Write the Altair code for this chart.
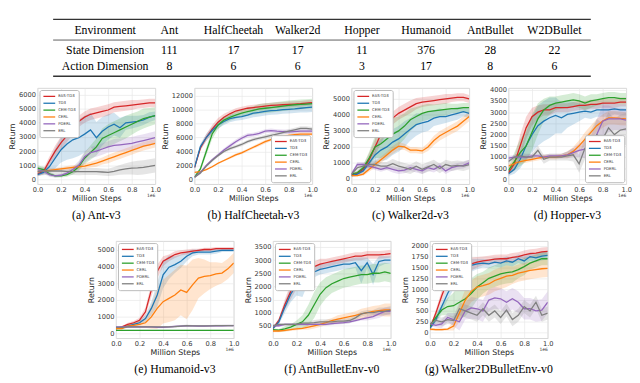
import altair as alt
import pandas as pd

STEPS = [0.0, 0.05, 0.1, 0.15, 0.2, 0.25, 0.3, 0.35, 0.4, 0.45, 0.5,
         0.55, 0.6, 0.65, 0.7, 0.75, 0.8, 0.85, 0.9, 0.95, 1.0]
SERIES = ["EAS-TD3", "TD3", "CEM-TD3", "CERL", "PDERL", "ERL"]
COLORS = ["#d62728", "#1f77b4", "#2ca02c", "#ff7f0e", "#9467bd", "#7f7f7f"]
X_TICKS = [0.0, 0.2, 0.4, 0.6, 0.8, 1.0]

# ---------------- table ----------------
TABLE_COLS = ["Environment", "Ant", "HalfCheetah", "Walker2d", "Hopper", "Humanoid", "AntBullet", "W2DBullet"]
STATE_DIMS = ["State Dimension", "111", "17", "17", "11", "376", "28", "22"]
ACTION_DIMS = ["Action Dimension", "8", "6", "6", "3", "17", "8", "6"]
# vertical layout slots of the table (rules and text rows)
TABLE_SLOTS = ["top", "s1", "head", "s3", "mid", "s5", "state", "s7", "s8", "action", "s10", "bottom"]

# ---------------- (a) Ant-v3 ----------------
ANT_EAS = [400, 550, 1300, 2000, 2600, 3100, 3600, 4100, 4400, 4600, 4700, 4800, 4900, 5100, 5150, 5200, 5250, 5300, 5350, 5400, 5400]
ANT_TD3 = [350, 500, 900, 1500, 2100, 2500, 2800, 2950, 3200, 3500, 2950, 3400, 3700, 3900, 3650, 4000, 4050, 4100, 4200, 4400, 4500]
ANT_CEM = [800, 700, 400, 250, 250, 350, 550, 900, 1500, 1900, 2300, 2900, 3100, 3300, 3500, 3700, 3900, 4100, 4300, 4400, 4500]
ANT_CERL = [550, 600, 650, 700, 750, 800, 850, 900, 950, 1050, 1150, 1300, 1450, 1600, 1750, 1900, 2050, 2200, 2350, 2450, 2550]
ANT_PDERL = [700, 600, 350, 250, 300, 450, 700, 1000, 1600, 1900, 2000, 2150, 2300, 2400, 2450, 2500, 2550, 2650, 2750, 2850, 2950]
ANT_ERL = [550, 600, 600, 600, 600, 580, 560, 550, 560, 560, 560, 530, 500, 580, 680, 750, 800, 820, 850, 920, 1000]
ANT_EAS_SD = [150, 200, 300, 400, 450, 450, 450, 400, 400, 400, 400, 400, 400, 350, 350, 350, 350, 300, 300, 300, 300]
ANT_TD3_SD = [100, 150, 400, 700, 900, 1100, 1300, 1300, 1300, 1200, 1100, 1000, 900, 800, 700, 500, 450, 400, 350, 350, 300]
ANT_CEM_SD = [200, 200, 150, 100, 100, 150, 200, 300, 400, 500, 600, 700, 800, 800, 800, 800, 750, 700, 700, 650, 600]
ANT_CERL_SD = [100, 100, 100, 100, 100, 150, 150, 150, 200, 200, 250, 250, 300, 300, 300, 300, 300, 300, 300, 300, 300]
ANT_PDERL_SD = [200, 200, 150, 100, 100, 150, 200, 300, 400, 400, 400, 400, 400, 450, 450, 450, 450, 450, 450, 450, 450]
ANT_ERL_SD = [300, 300, 250, 250, 250, 250, 250, 250, 250, 250, 250, 250, 250, 300, 350, 400, 450, 500, 500, 500, 500]

# ---------------- (b) HalfCheetah-v3 ----------------
HC_EAS = [1700, 4500, 6000, 7200, 8200, 8900, 9400, 9800, 10000, 10200, 10300, 10400, 10500, 10600, 10650, 10700, 10750, 10800, 10850, 10950, 11000]
HC_TD3 = [1700, 4700, 6000, 7000, 7800, 8300, 8700, 8900, 9000, 9200, 9500, 9600, 9750, 9850, 9900, 10000, 10050, 10100, 10200, 10300, 10350]
HC_CEM = [300, 1500, 4000, 6500, 7800, 8500, 8900, 9200, 9500, 9700, 9900, 10100, 10200, 10300, 10400, 10500, 10600, 10700, 10750, 10800, 10850]
HC_CERL = [1000, 1100, 1400, 1800, 2300, 2700, 3100, 3500, 3800, 4200, 4600, 5000, 5400, 5700, 5900, 6100, 6300, 6400, 6500, 6500, 6500]
HC_PDERL = [300, 1000, 2000, 2800, 3500, 4200, 4800, 5400, 5900, 6300, 6400, 6600, 6900, 7000, 6900, 6850, 6800, 6850, 6900, 6900, 6900]
HC_ERL = [300, 900, 1900, 2700, 3400, 4000, 4400, 4700, 5000, 5400, 5700, 5900, 6100, 6300, 6500, 6700, 6900, 7100, 7300, 7300, 7200]
HC_EAS_SD = [200, 400, 500, 600, 600, 500, 400, 400, 400, 400, 400, 400, 400, 400, 400, 400, 400, 400, 400, 400, 400]
HC_TD3_SD = [200, 400, 500, 500, 500, 500, 500, 500, 500, 500, 600, 600, 600, 600, 600, 600, 600, 600, 600, 700, 700]
HC_CEM_SD = [100, 300, 600, 700, 600, 500, 500, 500, 500, 600, 600, 700, 700, 700, 700, 700, 700, 700, 700, 700, 700]
HC_CERL_SD = [100, 100, 100, 100, 150, 150, 200, 200, 200, 200, 200, 250, 250, 250, 250, 250, 250, 250, 250, 250, 250]
HC_PDERL_SD = [100, 200, 200, 200, 250, 250, 300, 300, 300, 300, 300, 300, 300, 300, 300, 300, 300, 300, 300, 300, 300]
HC_ERL_SD = [100, 200, 200, 200, 200, 200, 250, 250, 250, 250, 250, 250, 300, 300, 300, 300, 300, 300, 300, 300, 300]

# ---------------- (c) Walker2d-v3 ----------------
WK_EAS = [250, 350, 600, 1200, 2000, 2800, 3400, 3800, 4100, 4300, 4500, 4700, 4800, 4850, 4900, 4950, 5000, 5050, 5100, 5100, 5000]
WK_TD3 = [200, 300, 500, 1000, 1500, 1800, 2000, 2300, 2500, 2800, 3100, 3400, 3500, 3600, 3800, 3900, 3900, 4000, 4100, 4200, 4100]
WK_CEM = [300, 400, 700, 1300, 2000, 2200, 2500, 2800, 3000, 3300, 3700, 3900, 4100, 4200, 4250, 4300, 4350, 4400, 4400, 4450, 4450]
WK_CERL = [200, 200, 300, 600, 900, 1200, 1500, 1800, 2050, 2000, 1800, 1800, 1750, 2000, 2400, 2700, 2900, 3100, 3300, 3600, 3900]
WK_PDERL = [300, 900, 900, 800, 700, 600, 700, 600, 500, 550, 700, 600, 500, 700, 600, 800, 500, 700, 800, 850, 1000]
WK_ERL = [300, 700, 800, 900, 900, 800, 800, 950, 800, 700, 600, 800, 600, 750, 900, 650, 900, 800, 850, 800, 900]
WK_EAS_SD = [100, 100, 200, 400, 500, 600, 500, 400, 400, 400, 400, 350, 300, 300, 300, 300, 300, 250, 250, 250, 250]
WK_TD3_SD = [100, 100, 200, 400, 600, 700, 800, 800, 800, 800, 700, 700, 600, 600, 500, 500, 400, 400, 400, 300, 300]
WK_CEM_SD = [100, 100, 200, 400, 700, 900, 1000, 1000, 900, 800, 700, 600, 500, 500, 400, 400, 400, 300, 300, 300, 300]
WK_CERL_SD = [50, 50, 100, 150, 200, 200, 200, 250, 250, 200, 200, 200, 200, 250, 300, 300, 300, 300, 300, 300, 300]
WK_PDERL_SD = [100, 150, 150, 150, 150, 150, 150, 200, 200, 200, 200, 200, 200, 200, 200, 200, 200, 200, 200, 200, 200]
WK_ERL_SD = [150, 200, 200, 200, 250, 250, 250, 300, 300, 300, 300, 300, 300, 300, 300, 300, 300, 300, 300, 300, 300]

# ---------------- (d) Hopper-v3 ----------------
HOP_EAS = [300, 700, 1500, 2300, 2800, 3000, 3100, 3100, 3200, 3200, 3200, 3250, 3300, 3300, 3350, 3350, 3400, 3400, 3400, 3450, 3450]
HOP_TD3 = [250, 450, 900, 1500, 2000, 2400, 2600, 2750, 2850, 2750, 2900, 2950, 3000, 3050, 3000, 3100, 3100, 3100, 3150, 3100, 3100]
HOP_CEM = [400, 800, 1200, 1500, 2100, 2700, 3100, 3300, 3400, 3450, 3500, 3550, 3500, 3400, 3500, 3550, 3600, 3650, 3650, 3600, 3600]
HOP_CERL = [600, 700, 800, 850, 900, 950, 1000, 1000, 1000, 1050, 1100, 1250, 1500, 1800, 2100, 2400, 2600, 2750, 2750, 2720, 2700]
HOP_PDERL = [950, 1000, 1000, 1000, 1050, 1050, 1000, 1050, 1050, 1050, 1100, 1200, 1300, 1350, 1400, 2000, 2600, 2700, 2700, 2700, 2650]
HOP_ERL = [800, 1000, 1050, 1000, 1000, 1300, 900, 1000, 1000, 1000, 1050, 1100, 700, 1400, 1600, 2000, 1800, 2300, 2000, 2200, 2250]
HOP_EAS_SD = [100, 300, 500, 500, 400, 300, 250, 250, 200, 200, 200, 200, 200, 200, 200, 200, 200, 200, 200, 200, 200]
HOP_TD3_SD = [100, 200, 400, 600, 800, 900, 900, 900, 800, 700, 600, 500, 400, 300, 300, 300, 300, 300, 250, 250, 250]
HOP_CEM_SD = [150, 400, 600, 700, 800, 700, 500, 400, 300, 300, 300, 300, 300, 300, 300, 250, 250, 250, 250, 250, 250]
HOP_CERL_SD = [100, 100, 100, 100, 100, 100, 100, 100, 100, 100, 150, 200, 250, 300, 300, 300, 300, 300, 300, 300, 300]
HOP_PDERL_SD = [100, 100, 100, 100, 100, 100, 100, 100, 100, 100, 150, 200, 300, 400, 500, 700, 700, 600, 500, 500, 500]
HOP_ERL_SD = [100, 100, 150, 150, 150, 200, 200, 150, 150, 150, 200, 300, 400, 500, 600, 700, 700, 700, 700, 700, 700]

# ---------------- (e) Humanoid-v3 ----------------
HUM_EAS = [300, 400, 550, 650, 800, 1300, 2600, 3700, 4300, 4500, 4700, 4800, 4850, 4900, 4950, 5000, 5000, 5050, 5050, 5050, 5050]
HUM_TD3 = [300, 350, 450, 550, 650, 900, 1500, 2300, 3500, 3950, 4100, 4300, 4600, 4800, 4850, 4850, 4850, 4900, 4950, 4950, 4950]
HUM_CEM = [200, 200, 200, 200, 200, 200, 200, 200, 200, 200, 200, 200, 200, 200, 200, 200, 200, 200, 200, 200, 200]
HUM_CERL = [300, 300, 450, 500, 550, 650, 1000, 1500, 1900, 2100, 2300, 2600, 2450, 2900, 3300, 3400, 3450, 3550, 3600, 3850, 4200]
HUM_PDERL = [400, 400, 400, 400, 400, 400, 400, 380, 380, 400, 430, 450, 470, 460, 450, 450, 460, 470, 470, 480, 480]
HUM_ERL = [380, 380, 400, 400, 400, 400, 400, 400, 400, 400, 420, 450, 480, 470, 460, 460, 470, 480, 480, 480, 480]
HUM_EAS_SD = [50, 50, 100, 100, 150, 250, 400, 400, 300, 200, 200, 150, 150, 150, 100, 100, 100, 100, 100, 100, 100]
HUM_TD3_SD = [50, 50, 100, 100, 150, 200, 400, 700, 800, 700, 500, 400, 300, 200, 150, 150, 150, 150, 100, 100, 100]
HUM_CEM_SD = [30, 30, 30, 30, 30, 30, 30, 30, 30, 30, 30, 30, 30, 30, 30, 30, 30, 30, 30, 30, 30]
HUM_CERL_SD = [50, 50, 100, 150, 200, 300, 700, 1200, 1300, 1400, 1500, 1500, 1600, 1500, 1200, 1000, 800, 700, 600, 600, 600]
HUM_PDERL_SD = [60, 60, 60, 60, 60, 60, 60, 60, 60, 60, 60, 60, 60, 60, 60, 60, 60, 60, 60, 60, 60]
HUM_ERL_SD = [50, 50, 50, 50, 50, 50, 50, 50, 50, 50, 50, 50, 50, 50, 50, 50, 50, 50, 50, 50, 50]

# ---------------- (f) AntBulletEnv-v0 ----------------
ABE_EAS = [400, 700, 1300, 1800, 2200, 2450, 2650, 2750, 2850, 2900, 2950, 3000, 3050, 3100, 3150, 3150, 3200, 3200, 3200, 3220, 3250]
ABE_TD3 = [400, 650, 1200, 1700, 2050, 1900, 2400, 2550, 2650, 2700, 2750, 2800, 2850, 2850, 2900, 2600, 2900, 2450, 2950, 3000, 3000]
ABE_CEM = [350, 330, 380, 450, 550, 650, 900, 1300, 1700, 1950, 2100, 2200, 2300, 2350, 2400, 2450, 2450, 2500, 2500, 2550, 2500]
ABE_CERL = [300, 300, 320, 350, 380, 400, 450, 500, 550, 620, 700, 750, 800, 850, 900, 950, 1000, 1050, 1080, 1100, 1100]
ABE_PDERL = [500, 500, 550, 550, 550, 550, 550, 550, 550, 550, 580, 600, 620, 650, 700, 750, 800, 850, 950, 1050, 1050]
ABE_ERL = [500, 550, 550, 550, 550, 600, 600, 620, 650, 650, 650, 680, 680, 700, 800, 950, 1000, 1000, 1050, 1050, 1100]
ABE_EAS_SD = [50, 100, 200, 300, 300, 250, 200, 200, 200, 150, 150, 150, 150, 150, 150, 150, 150, 150, 150, 150, 150]
ABE_TD3_SD = [50, 100, 200, 300, 400, 300, 250, 200, 200, 200, 200, 200, 200, 200, 200, 500, 200, 400, 200, 150, 150]
ABE_CEM_SD = [50, 50, 100, 100, 150, 250, 400, 500, 450, 400, 350, 350, 350, 350, 350, 350, 350, 350, 350, 350, 350]
ABE_CERL_SD = [50, 50, 50, 50, 50, 50, 100, 100, 100, 100, 100, 150, 150, 150, 150, 200, 200, 200, 200, 250, 250]
ABE_PDERL_SD = [50, 50, 50, 50, 50, 50, 50, 50, 50, 50, 50, 50, 50, 50, 50, 50, 100, 100, 150, 150, 150]
ABE_ERL_SD = [50, 50, 50, 50, 50, 50, 50, 100, 100, 100, 100, 100, 100, 100, 100, 100, 100, 100, 150, 150, 150]

# ---------------- (g) Walker2DBulletEnv-v0 ----------------
WBE_EAS = [100, 450, 850, 1200, 1350, 1450, 1520, 1580, 1620, 1650, 1670, 1690, 1700, 1700, 1730, 1750, 1790, 1820, 1830, 1860, 1870]
WBE_TD3 = [100, 300, 600, 900, 1150, 1350, 1450, 1550, 1580, 1600, 1580, 1620, 1600, 1650, 1620, 1700, 1650, 1750, 1720, 1760, 1780]
WBE_CEM = [150, 350, 520, 600, 620, 700, 780, 900, 1050, 1150, 1250, 1300, 1350, 1380, 1400, 1450, 1520, 1600, 1650, 1700, 1700]
WBE_CERL = [80, 70, 70, 80, 150, 450, 750, 950, 1050, 1080, 1120, 1200, 1250, 1300, 1320, 1370, 1400, 1430, 1450, 1470, 1480]
WBE_PDERL = [200, 170, 200, 350, 300, 250, 500, 570, 550, 500, 750, 800, 780, 700, 780, 700, 550, 550, 500, 520, 700]
WBE_ERL = [200, 280, 250, 300, 280, 550, 500, 450, 400, 550, 400, 500, 350, 520, 300, 400, 600, 500, 700, 400, 450]
WBE_EAS_SD = [30, 80, 120, 150, 150, 150, 150, 150, 120, 100, 100, 100, 100, 100, 100, 100, 100, 100, 100, 100, 100]
WBE_TD3_SD = [30, 80, 120, 150, 150, 150, 150, 150, 120, 100, 100, 100, 100, 100, 100, 100, 100, 100, 100, 100, 100]
WBE_CEM_SD = [30, 80, 120, 200, 300, 400, 400, 350, 300, 250, 250, 250, 250, 250, 250, 200, 200, 150, 150, 150, 150]
WBE_CERL_SD = [30, 30, 30, 30, 100, 200, 250, 250, 250, 250, 250, 250, 250, 250, 200, 200, 200, 200, 200, 200, 200]
WBE_PDERL_SD = [50, 50, 100, 100, 150, 200, 200, 250, 250, 250, 250, 250, 250, 250, 250, 250, 250, 250, 250, 250, 250]
WBE_ERL_SD = [50, 100, 100, 100, 100, 150, 150, 150, 150, 150, 150, 150, 150, 150, 150, 150, 150, 150, 150, 150, 150]

FONT = "DejaVu Sans"
SERIF = "Liberation Serif"
PW = 120


def table_chart():
    recs = []
    for c, s, a in zip(TABLE_COLS, STATE_DIMS, ACTION_DIMS):
        recs.append({"col": c, "row": "head", "label": c})
        recs.append({"col": c, "row": "state", "label": s})
        recs.append({"col": c, "row": "action", "label": a})
    tdf = pd.DataFrame(recs)
    yscale = alt.Scale(type="point", domain=TABLE_SLOTS, padding=0)
    xscale = alt.Scale(type="point", domain=TABLE_COLS, range=[69, 527], padding=0)
    text = alt.Chart(tdf).mark_text(font=SERIF, fontSize=12, color="black", baseline="middle").encode(
        x=alt.X("col:N", scale=xscale, axis=None),
        y=alt.Y("row:N", scale=yscale, axis=None),
        text="label:N",
    )
    heavy = alt.Chart(pd.DataFrame({"row": ["top", "bottom"]})).mark_rule(color="#333333", strokeWidth=1.4).encode(
        x=alt.value(16), x2=alt.value(564), y=alt.Y("row:N", scale=yscale, axis=None)
    )
    light = alt.Chart(pd.DataFrame({"row": ["mid"]})).mark_rule(color="#333333", strokeWidth=0.8).encode(
        x=alt.value(16), x2=alt.value(564), y=alt.Y("row:N", scale=yscale, axis=None)
    )
    return alt.layer(heavy, light, text).properties(
        width=570, height=58, view=alt.ViewBackground(stroke="transparent")
    )


def panel(means, sds, ydom, yvals, legend_orient, caption, h):
    recs = []
    for name, m, s in zip(SERIES, means, sds):
        for x, v, d in zip(STEPS, m, s):
            recs.append({"x": x, "series": name, "v": v, "lo": v - d, "hi": v + d})
    df = pd.DataFrame(recs)
    xenc = alt.X("x:Q", scale=alt.Scale(domain=[0, 1], nice=False),
                 axis=alt.Axis(values=X_TICKS, format=".1f", title="Million Steps",
                               labelFlush=False, labelOverlap=False))
    yaxis = alt.Axis(values=yvals, format="d", title="Return", labelOverlap=False)
    yscale = alt.Scale(domain=ydom, nice=False, zero=False)
    cscale = alt.Scale(domain=SERIES, range=COLORS)
    legend = alt.Legend(orient=legend_orient, offset=2, title=None,
                        labelFontSize=4, labelFont=FONT, labelColor="#333333",
                        symbolType="M-1,0H3.8", symbolSize=25, symbolStrokeWidth=1.3,
                        symbolOpacity=1, symbolFillColor="transparent",
                        rowPadding=0, padding=3, labelOffset=9,
                        fillColor="#ffffff", strokeColor="#bbbbbb", cornerRadius=2)
    band = alt.Chart(df).mark_area(opacity=0.2, clip=True).encode(
        x=xenc,
        y=alt.Y("lo:Q", scale=yscale, stack=None, axis=yaxis),
        y2="hi:Q",
        color=alt.Color("series:N", scale=cscale, legend=legend),
    )
    line = alt.Chart(df).mark_line(strokeWidth=1.3, clip=True).encode(
        x=xenc,
        y=alt.Y("v:Q", scale=yscale, axis=yaxis),
        color=alt.Color("series:N", scale=cscale, legend=legend),
    )
    note = alt.Chart(pd.DataFrame({"t": ["1e6"]})).mark_text(
        align="right", baseline="middle", fontSize=4.5, font=FONT, color="#333333"
    ).encode(x=alt.value(PW), y=alt.value(h + 12), text="t:N")
    return alt.layer(band, line, note).properties(
        width=PW, height=h,
        title=alt.TitleParams(caption, orient="bottom", anchor="middle", font=SERIF, fontSize=12,
                              fontWeight="normal", color="black", offset=8),
    )


pa = panel([ANT_EAS, ANT_TD3, ANT_CEM, ANT_CERL, ANT_PDERL, ANT_ERL],
           [ANT_EAS_SD, ANT_TD3_SD, ANT_CEM_SD, ANT_CERL_SD, ANT_PDERL_SD, ANT_ERL_SD],
           [-330, 6450], [0, 1000, 2000, 3000, 4000, 5000, 6000], "top-left", "(a) Ant-v3", 98)
pb = panel([HC_EAS, HC_TD3, HC_CEM, HC_CERL, HC_PDERL, HC_ERL],
           [HC_EAS_SD, HC_TD3_SD, HC_CEM_SD, HC_CERL_SD, HC_PDERL_SD, HC_ERL_SD],
           [-700, 13100], [0, 2000, 4000, 6000, 8000, 10000, 12000], "bottom-right", "(b) HalfCheetah-v3", 98)
pc = panel([WK_EAS, WK_TD3, WK_CEM, WK_CERL, WK_PDERL, WK_ERL],
           [WK_EAS_SD, WK_TD3_SD, WK_CEM_SD, WK_CERL_SD, WK_PDERL_SD, WK_ERL_SD],
           [-330, 5680], [0, 1000, 2000, 3000, 4000, 5000], "top-left", "(c) Walker2d-v3", 98)
pd_ = panel([HOP_EAS, HOP_TD3, HOP_CEM, HOP_CERL, HOP_PDERL, HOP_ERL],
            [HOP_EAS_SD, HOP_TD3_SD, HOP_CEM_SD, HOP_CERL_SD, HOP_PDERL_SD, HOP_ERL_SD],
            [-210, 4075], [0, 500, 1000, 1500, 2000, 2500, 3000, 3500, 4000], "bottom-right", "(d) Hopper-v3", 98)
pe = panel([HUM_EAS, HUM_TD3, HUM_CEM, HUM_CERL, HUM_PDERL, HUM_ERL],
           [HUM_EAS_SD, HUM_TD3_SD, HUM_CEM_SD, HUM_CERL_SD, HUM_PDERL_SD, HUM_ERL_SD],
           [-270, 5500], [0, 1000, 2000, 3000, 4000, 5000], "top-left", "(e) Humanoid-v3", 99)
pf = panel([ABE_EAS, ABE_TD3, ABE_CEM, ABE_CERL, ABE_PDERL, ABE_ERL],
           [ABE_EAS_SD, ABE_TD3_SD, ABE_CEM_SD, ABE_CERL_SD, ABE_PDERL_SD, ABE_ERL_SD],
           [25, 3725], [500, 1000, 1500, 2000, 2500, 3000, 3500], "top-left", "(f) AntBulletEnv-v0", 99)
pg = panel([WBE_EAS, WBE_TD3, WBE_CEM, WBE_CERL, WBE_PDERL, WBE_ERL],
           [WBE_EAS_SD, WBE_TD3_SD, WBE_CEM_SD, WBE_CERL_SD, WBE_PDERL_SD, WBE_ERL_SD],
           [-128, 2106], [0, 250, 500, 750, 1000, 1250, 1500, 1750, 2000], "top-left", "(g) Walker2DBulletEnv-v0", 99)

row1 = alt.hconcat(pa, pb, pc, pd_, spacing=40, bounds="flush").resolve_scale(
    color="independent").resolve_legend(color="independent")
row2 = alt.hconcat(pe, pf, pg, spacing=40, bounds="flush").resolve_scale(
    color="independent").resolve_legend(color="independent")
plots = alt.vconcat(row1, row2, spacing=18, center=True).resolve_scale(
    color="independent").resolve_legend(color="independent")

chart = alt.vconcat(table_chart(), plots, spacing=8).resolve_scale(
    color="independent").resolve_legend(color="independent").properties(
    padding={"left": 0, "top": 6, "right": 0, "bottom": 0}
).configure_view(stroke="#cccccc", strokeWidth=0.8).configure_axis(
    labelFont=FONT, titleFont=FONT, labelFontSize=6.8, titleFontSize=8, titleFontWeight="normal",
    labelColor="#333333", titleColor="#262626", gridColor="#e8e8e8", gridWidth=0.7,
    ticks=False, domain=False, labelPadding=2, titlePadding=2, labelOverlap=False
)

chart.save("out.html", embed_options={"renderer": "svg", "actions": False})
